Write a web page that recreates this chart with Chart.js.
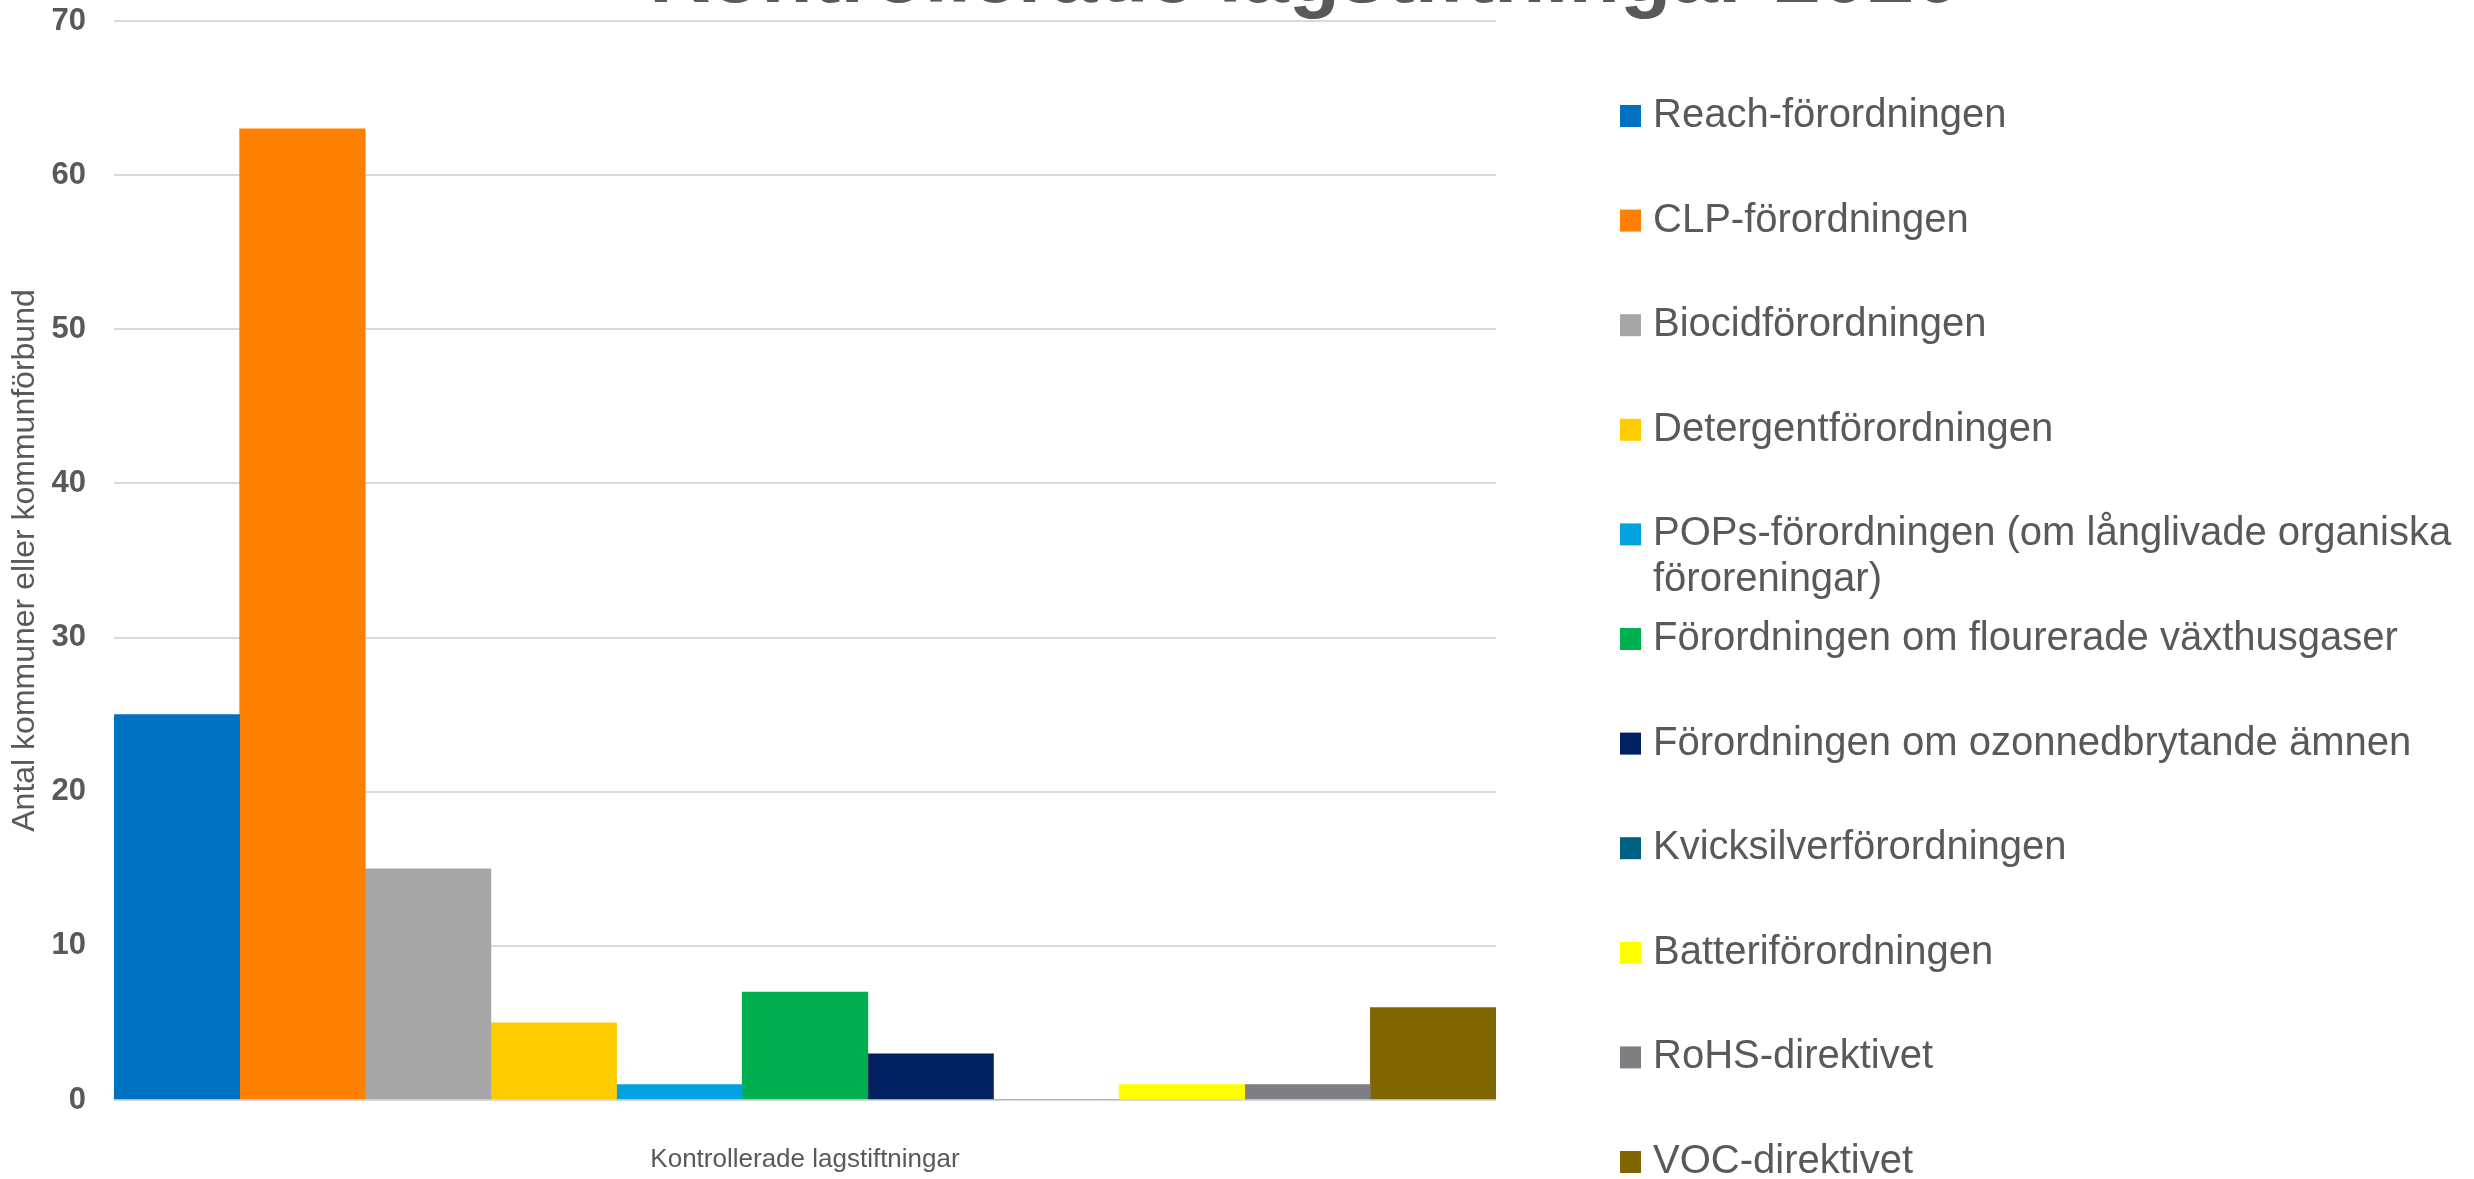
<!DOCTYPE html>
<html lang="sv">
<head>
<meta charset="utf-8">
<title>Kontrollerade lagstiftningar 2020</title>
<script src="https://cdn.jsdelivr.net/npm/chart.js"></script>
<style>
  html, body { margin: 0; padding: 0; background: #ffffff; }
  canvas { display: block; }
</style>
</head>
<body>
<canvas id="cv1" width="2474" height="1179"></canvas>
<script>

const chartTitle = "Kontrollerade lagstiftningar 2020";
const yTitle = "Antal kommuner eller kommunförbund";

const categories = ["Kontrollerade lagstiftningar"];

const seriesNames = [
    "Reach-förordningen",
    "CLP-förordningen",
    "Biocidförordningen",
    "Detergentförordningen",
    "POPs-förordningen (om långlivade organiska föroreningar)",
    "Förordningen om flourerade växthusgaser",
    "Förordningen om ozonnedbrytande ämnen",
    "Kvicksilverförordningen",
    "Batteriförordningen",
    "RoHS-direktivet",
    "VOC-direktivet"
];

const seriesValues = [25, 63, 15, 5, 1, 7, 3, 0, 1, 1, 6];

const seriesColors = [
    "#0070c0", "#ff8000", "#a6a6a6", "#ffcc00", "#00a3e0", "#00b050",
    "#002060", "#006080", "#ffff00", "#7f7f83", "#7f6600"
];

const yTicks = [0, 10, 20, 30, 40, 50, 60, 70];

const textColor = "#595959";
const fontFamily = "'Liberation Sans', Arial, sans-serif";

Chart.defaults.font.family = fontFamily;
Chart.defaults.color = textColor;


// title sits mostly above the top edge, like in the original export
const cutTitle = {
    id: "cutTitle",
    afterDraw(chart) {
        const ctx = chart.ctx;
        ctx.save();
        ctx.font = "bold 84px " + fontFamily;
        ctx.fillStyle = textColor;
        ctx.textAlign = "center";
        ctx.textBaseline = "alphabetic";
        ctx.fillText(chartTitle, 1305, 2);
        ctx.restore();
    }
};


function wrapText(ctx, text, maxWidth) {
    const words = text.split(" ");
    const lines = [];
    let line = "";
    words.forEach(function (w) {
        const test = line ? line + " " + w : w;
        if (ctx.measureText(test).width > maxWidth && line) {
            lines.push(line);
            line = w;
        } else {
            line = test;
        }
    });
    lines.push(line);
    return lines;
}


const sideLegend = {
    id: "sideLegend",
    afterDraw(chart) {
        const ctx = chart.ctx;
        const x = chart.chartArea.right + 124;
        ctx.save();
        ctx.font = "40px " + fontFamily;
        ctx.textAlign = "left";
        ctx.textBaseline = "middle";
        chart.data.datasets.forEach(function (ds, i) {
            const cy = 116 + i * 104.6;
            ctx.fillStyle = ds.backgroundColor;
            ctx.fillRect(x, cy - 11, 21, 22);
            ctx.fillStyle = textColor;
            const lines = wrapText(ctx, ds.label, 815);
            lines.forEach(function (line, k) {
                ctx.fillText(line, x + 33, cy + k * 46);
            });
        });
        ctx.restore();
    }
};


function makeChart(id) {
    const canvas = document.getElementById(id);

    const datasets = seriesNames.map(function (name, i) {
        return {
            label: name,
            data: [seriesValues[i]],
            backgroundColor: seriesColors[i],
            borderWidth: 0,
            categoryPercentage: 1,
            barPercentage: 1
        };
    });

    new Chart(canvas, {
        type: "bar",
        data: { labels: categories, datasets: datasets },
        plugins: [cutTitle, sideLegend],
        options: {
            responsive: false,
            animation: false,
            layout: { padding: { top: 21, right: 978, left: 0, bottom: 0 } },
            plugins: {
                legend: { display: false },
                tooltip: { enabled: false },
                title: { display: false }
            },
            scales: {
                x: {
                    grid: { display: false, drawTicks: false },
                    border: { display: false },
                    ticks: { color: textColor, font: { size: 26 }, padding: 44 },
                    afterFit(scale) { scale.height = 79; }
                },
                y: {
                    min: yTicks[0],
                    max: yTicks[yTicks.length - 1],
                    afterBuildTicks(scale) {
                        scale.ticks = yTicks.map(function (v) { return { value: v }; });
                    },
                    ticks: { color: textColor, font: { size: 31, weight: "bold" }, padding: 28 },
                    grid: { color: "#d9d9d9", lineWidth: 2, drawTicks: false },
                    border: { display: false },
                    title: {
                        display: true,
                        text: yTitle,
                        color: textColor,
                        font: { size: 32 },
                        padding: { top: 6, bottom: 0 }
                    },
                    afterFit(scale) {
                        scale.width = 114;
                        scale.paddingTop = 0;
                        scale.paddingBottom = 0;
                    }
                }
            }
        }
    });
}

makeChart("cv1");
</script>
</body>
</html>
